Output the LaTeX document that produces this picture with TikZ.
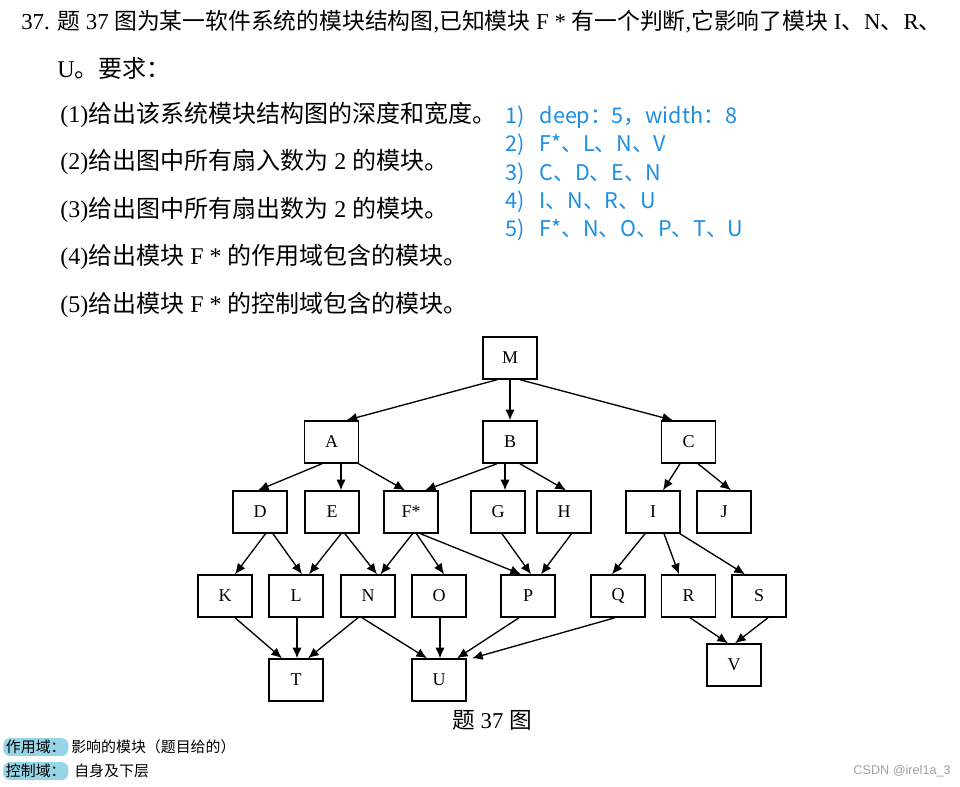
\documentclass[tikz,border=0pt]{standalone}
\usepackage{fontspec}
\setmainfont{Liberation Serif}
\newfontfamily\cjk{Noto Sans CJK SC}
\newfontfamily\wmfont{Liberation Sans}
\usetikzlibrary{arrows.meta}
\definecolor{ansblue}{RGB}{28,142,228}
\definecolor{hl}{RGB}{150,212,232}
\definecolor{wmgray}{RGB}{160,160,160}
\newcommand\conn[4]{\draw[arr] ([xshift=#2*0.75pt]#1.south) -- ([xshift=#4*0.75pt]#3.north);}
\tikzset{
  box/.style={draw, line width=1.1pt, minimum width=40.5pt, minimum height=31.5pt, inner sep=0pt, font=\fontsize{13.5}{15}\selectfont},
  arr/.style={line width=1pt, -{Latex[length=8pt,width=7pt]}},
  qtext/.style={anchor=west, inner sep=0pt, font=\fontsize{18}{20}\selectfont},
  anstext/.style={anchor=west, inner sep=0pt, text=ansblue, font=\cjk\fontsize{16.2}{18}\selectfont},
  hlbox/.style={anchor=west, fill=hl, rounded corners=5pt, inner xsep=2pt, inner ysep=1.5pt, font=\cjk\fontsize{11.2}{13}\selectfont},
  notetext/.style={anchor=west, inner sep=0pt, font=\cjk\fontsize{11.2}{13}\selectfont}
}
\begin{document}
\begin{tikzpicture}[x=0.75pt,y=-0.75pt]
\useasboundingbox (0,0) rectangle (960,786);
\fill[white] (0,0) rectangle (960,786);
% question text
\node[qtext, font=\fontsize{17.1}{20}\selectfont] (q0) at (21,22) {37. {\cjk 题} 37 {\cjk 图为某一软件系统的模块结构图},{\cjk 已知模块} F * {\cjk 有一个判断},{\cjk 它影响了模块} I{\cjk 、}N{\cjk 、}R{\cjk 、}};
\node[qtext] (q0b) at (57,68) {U{\cjk 。要求：}};
\node[qtext] (q1) at (60,115) {(1){\cjk 给出该系统模块结构图的深度和宽度。}};
\node[qtext] (q2) at (60,162) {(2){\cjk 给出图中所有扇入数为} 2 {\cjk 的模块。}};
\node[qtext] (q3) at (60,210) {(3){\cjk 给出图中所有扇出数为} 2 {\cjk 的模块。}};
\node[qtext] (q4) at (60,257) {(4){\cjk 给出模块} F * {\cjk 的作用域包含的模块。}};
\node[qtext] (q5) at (60,305) {(5){\cjk 给出模块} F * {\cjk 的控制域包含的模块。}};
% answers
\node[anstext] (a1) at (505,117) {1)\hspace{0.7em}deep：5，width：8};
\node[anstext] (a2) at (505,145) {2)\hspace{0.7em}F*、L、N、V};
\node[anstext] (a3) at (505,174) {3)\hspace{0.7em}C、D、E、N};
\node[anstext] (a4) at (505,202) {4)\hspace{0.7em}I、N、R、U};
\node[anstext] (a5) at (505,230) {5)\hspace{0.7em}F*、N、O、P、T、U};
% boxes
\node[box] (M) at (510,358) {M};
\node[box] (A) at (331.5,442) {A};
\node[box] (B) at (510,442) {B};
\node[box] (C) at (688.5,442) {C};
\node[box] (D) at (260,512) {D};
\node[box] (E) at (332,512) {E};
\node[box] (F) at (411,512) {F*};
\node[box] (G) at (498,512) {G};
\node[box] (H) at (564,512) {H};
\node[box] (I) at (653,512) {I};
\node[box] (J) at (724,512) {J};
\node[box] (K) at (225,596) {K};
\node[box] (L) at (296,596) {L};
\node[box] (N) at (368,596) {N};
\node[box] (O) at (439,596) {O};
\node[box] (P) at (528,596) {P};
\node[box] (Q) at (618,596) {Q};
\node[box] (R) at (688.5,596) {R};
\node[box] (S) at (759,596) {S};
\node[box] (T) at (296,680) {T};
\node[box] (U) at (439,680) {U};
\node[box] (V) at (734,665) {V};
% connectors
\conn{M}{-13}{A}{15}
\conn{M}{0}{B}{0}
\conn{M}{10}{C}{-15.5}
\conn{A}{-9.5}{D}{-2}
\conn{A}{9.5}{E}{9}
\conn{A}{27}{F}{-6}
\conn{B}{-13}{F}{14}
\conn{B}{-5}{G}{7}
\conn{B}{10}{H}{2}
\conn{C}{-8.5}{I}{10}
\conn{C}{9.5}{J}{7}
\conn{D}{5.5}{K}{10}
\conn{D}{13}{L}{6}
\conn{E}{9}{L}{13}
\conn{E}{13}{N}{9}
\conn{F}{1.5}{N}{12.5}
\conn{F}{5.5}{O}{5}
\conn{F}{9.5}{P}{-7}
\conn{G}{4}{P}{3}
\conn{H}{7.5}{P}{13}
\conn{I}{-8}{Q}{-6}
\conn{I}{11}{R}{-9.5}
\conn{I}{27}{S}{-14}
\conn{K}{10}{T}{-14}
\conn{L}{1}{T}{1}
\conn{N}{-10}{T}{12}
\conn{N}{-6}{U}{-12}
\conn{O}{1}{U}{1}
\conn{P}{-9}{U}{18}
\conn{Q}{-3}{U}{33}
\conn{R}{1.5}{V}{-6}
\conn{S}{9}{V}{1}
% caption
\node[inner sep=0pt, font=\fontsize{17}{20}\selectfont] (cap) at (492,720) {{\cjk 题} 37 {\cjk 图}};
% notes
\node[hlbox] (n1) at (3,747) {作用域：};
\node[notetext] (n1t) at (71,747) {影响的模块（题目给的）};
\node[hlbox] (n2) at (3,771) {控制域：};
\node[notetext] (n2t) at (74,771) {自身及下层};
\node[anchor=east, inner sep=0pt, text=wmgray, font=\wmfont\fontsize{9.5}{11}\selectfont] (wm) at (951,771) {CSDN @irel1a\_3};
\end{tikzpicture}
\end{document}
